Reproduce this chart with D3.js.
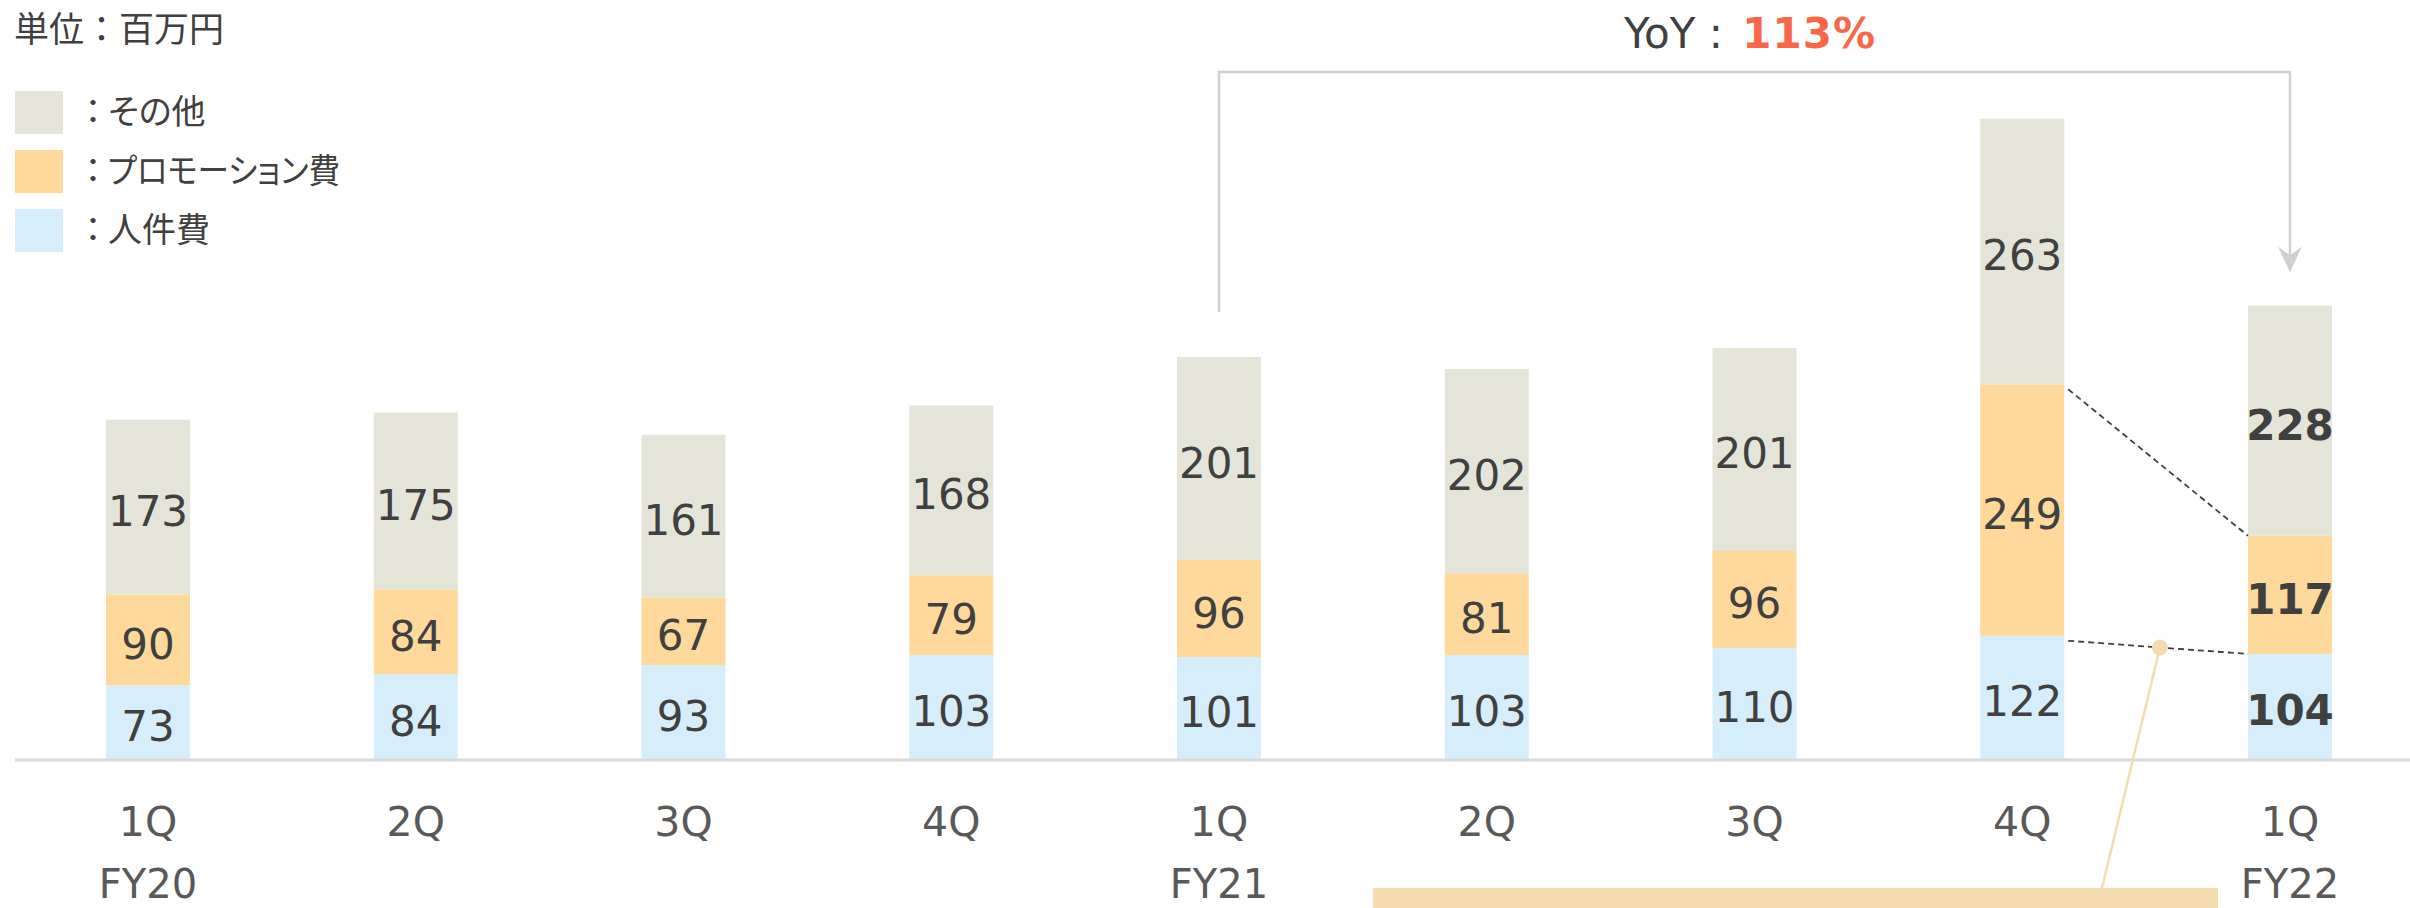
<!DOCTYPE html>
<html>
<head>
<meta charset="utf-8">
<script src="https://cdn.jsdelivr.net/npm/d3@7"></script>
<style>
  html, body { margin: 0; padding: 0; background: #fff; }
  svg { display: block; }
  .num { font-family: "DejaVu Sans", Verdana, sans-serif; }
  .jp { font-family: "Noto Sans CJK JP", "Noto Sans", sans-serif; }
  .palt { font-feature-settings: "palt"; }
</style>
</head>
<body>
<svg id="chart"></svg>
<script>
var width = 2410, height = 908;

// data
var quarters = ['1Q', '2Q', '3Q', '4Q', '1Q', '2Q', '3Q', '4Q', '1Q'];
var fiscalYears = ['FY20', '', '', '', 'FY21', '', '', '', 'FY22'];
var personnel = [73, 84, 93, 103, 101, 103, 110, 122, 104];
var promotion = [90, 84, 67, 79, 96, 81, 96, 249, 117];
var other = [173, 175, 161, 168, 201, 202, 201, 263, 228];
var seriesKeys = ['personnel', 'promotion', 'other'];
var legendLabels = ['その他', 'プロモーション費', '人件費'];
var unitLabel = '単位：百万円';
var yoyValue = '113%';

var colors = {other: '#e4e5d8', promotion: '#ffd89b', personnel: '#d6edfb'};
var legendKeys = ['other', 'promotion', 'personnel'];

var rows = quarters.map(function(q, i) {
  return {i: i, personnel: personnel[i], promotion: promotion[i], other: other[i]};
});

var svg = d3.select('#chart').attr('width', width).attr('height', height);

var baseY = 759;
var x = d3.scalePoint().domain(d3.range(quarters.length)).range([148, 2290]);
var y = d3.scaleLinear().domain([0, 100]).range([baseY, baseY - 101]);
var barW = 84;
var last = quarters.length - 1;

var stack = d3.stack().keys(seriesKeys);
var layers = stack(rows);

// bars
var g = svg.append('g');
layers.forEach(function(layer) {
  g.selectAll('rect.' + layer.key)
    .data(layer)
    .enter().append('rect')
    .attr('class', layer.key)
    .attr('x', function(d) { return x(d.data.i) - barW / 2; })
    .attr('y', function(d) { return y(d[1]); })
    .attr('width', barW)
    .attr('height', function(d) { return y(d[0]) - y(d[1]); })
    .attr('fill', colors[layer.key]);

  g.selectAll('text.' + layer.key)
    .data(layer)
    .enter().append('text')
    .attr('class', 'num')
    .attr('x', function(d) { return x(d.data.i); })
    .attr('y', function(d) { return (y(d[0]) + y(d[1])) / 2 + 19; })
    .attr('text-anchor', 'middle')
    .attr('font-size', 42)
    .attr('font-weight', function(d) { return d.data.i === last ? 'bold' : 'normal'; })
    .attr('fill', '#404040')
    .text(function(d) { return d.data[layer.key]; });
});

// baseline
svg.append('line')
  .attr('x1', 15).attr('x2', width)
  .attr('y1', baseY + 1).attr('y2', baseY + 1)
  .attr('stroke', '#d9d9d9').attr('stroke-width', 3);

// x labels
svg.append('g').selectAll('text')
  .data(quarters)
  .enter().append('text')
  .attr('class', 'num')
  .attr('x', function(d, i) { return x(i); })
  .attr('y', 836)
  .attr('text-anchor', 'middle')
  .attr('font-size', 41)
  .attr('fill', '#595959')
  .text(function(d) { return d; });

svg.append('g').selectAll('text')
  .data(fiscalYears)
  .enter().append('text')
  .attr('class', 'num')
  .attr('x', function(d, i) { return x(i); })
  .attr('y', 898)
  .attr('text-anchor', 'middle')
  .attr('font-size', 40)
  .attr('fill', '#595959')
  .text(function(d) { return d; });

// unit + legend
svg.append('text')
  .attr('class', 'jp')
  .attr('x', 14).attr('y', 42)
  .attr('font-size', 35)
  .attr('fill', '#404040')
  .text(unitLabel);

var lg = svg.append('g');
legendKeys.forEach(function(k, i) {
  var ly = 91 + i * 59;
  lg.append('rect')
    .attr('x', 15).attr('y', ly)
    .attr('width', 48).attr('height', 43)
    .attr('fill', colors[k]);
  lg.append('text')
    .attr('class', 'jp')
    .attr('x', 76).attr('y', ly + 33)
    .attr('font-size', 34)
    .attr('fill', '#404040')
    .text('：');
  var lt = lg.append('text')
    .attr('class', 'jp palt')
    .attr('x', 108).attr('y', ly + 33)
    .attr('font-size', 34)
    .attr('fill', '#404040')
    .text(legendLabels[i]);
  // katakana in the original are narrower
  if (legendLabels[i].length > 4) {
    lt.attr('textLength', 232).attr('lengthAdjust', 'spacingAndGlyphs');
  }
});

// YoY bracket
var totals = rows.map(function(r) { return r.personnel + r.promotion + r.other; });
var fromX = x(4), toX = x(last), topY = 72;
svg.append('path')
  .attr('d', 'M' + fromX + ',' + (y(totals[4]) - 45) + 'V' + topY + 'H' + toX + 'V' + (y(totals[last]) - 40))
  .attr('fill', 'none')
  .attr('stroke', '#d0d0d0')
  .attr('stroke-width', 2.5);
var tipY = y(totals[last]) - 33;
svg.append('path')
  .attr('d', 'M' + (toX - 12) + ',' + (tipY - 26) + 'L' + toX + ',' + tipY + 'L' + (toX + 12) + ',' + (tipY - 26) + 'L' + toX + ',' + (tipY - 17) + 'Z')
  .attr('fill', '#d0d0d0');

var yoy = svg.append('text')
  .attr('class', 'num')
  .attr('x', 1624).attr('y', 48)
  .attr('font-size', 42)
  .attr('fill', '#404040');
yoy.append('tspan').text('YoY : ');
yoy.append('tspan').attr('dx', 6).attr('letter-spacing', 1).attr('font-weight', 'bold').attr('fill', '#fa6648').text(yoyValue);

// dashed connectors between 4Q FY21 and 1Q FY22
var prev = rows[last - 1], cur = rows[last];
var lvls = [prev.personnel + prev.promotion, prev.personnel];
var lvlsCur = [cur.personnel + cur.promotion, cur.personnel];
lvls.forEach(function(v, j) {
  svg.append('line')
    .attr('x1', x(last - 1) + barW / 2 + 4).attr('y1', y(v) + 5)
    .attr('x2', x(last) - barW / 2).attr('y2', y(lvlsCur[j]))
    .attr('stroke', '#404040')
    .attr('stroke-width', 1.8)
    .attr('stroke-dasharray', '6 4');
});

// callout dot + line + band
var x1 = x(last - 1) + barW / 2 + 4, y1 = y(lvls[1]) + 5;
var x2 = x(last) - barW / 2, y2 = y(lvlsCur[1]);
var t = 0.51;
var dotX = x1 + (x2 - x1) * t, dotY = y1 + (y2 - y1) * t;
svg.append('line')
  .attr('x1', dotX).attr('y1', dotY)
  .attr('x2', 2102).attr('y2', 888)
  .attr('stroke', '#f4dcb0').attr('stroke-width', 2.5);
svg.append('circle')
  .attr('cx', dotX).attr('cy', dotY).attr('r', 8)
  .attr('fill', '#f4dcb0');
svg.append('rect')
  .attr('x', 1373).attr('y', 888)
  .attr('width', 845).attr('height', 30)
  .attr('fill', '#f4dcb0');
</script>
</body>
</html>
